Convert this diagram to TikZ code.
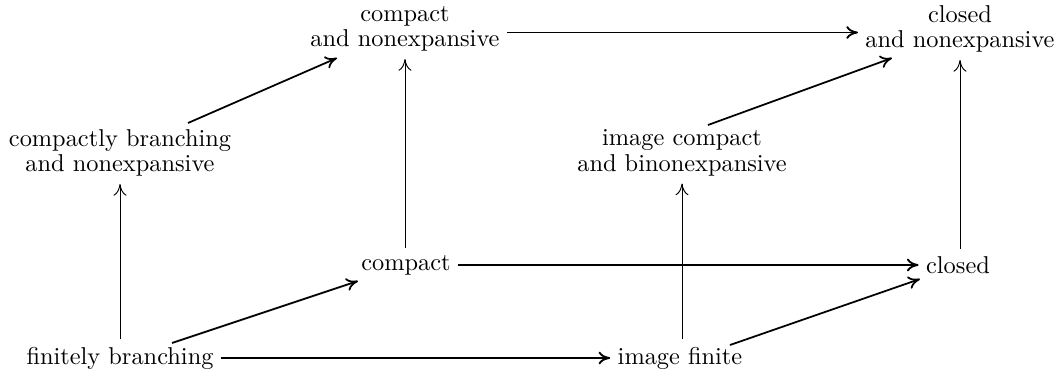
\documentclass[tikz,border=0pt]{standalone}
\usetikzlibrary{calc,arrows.meta}
\begin{document}
\begin{tikzpicture}[x=0.015cm,y=-0.015cm,
  lbl/.style={inner sep=3pt,align=center,font=\fontsize{10.4}{10.8}\selectfont},
  harr/.style={line width=0.8pt,-{To[length=5pt,width=5.5pt]}},
  varr/.style={line width=0.4pt,-{To[length=5pt,width=5.5pt]}},
  darr/.style={line width=0.75pt,-{To[length=5pt,width=5.5pt]}}]
\useasboundingbox (0,0) rectangle (1058,375);
\node[lbl] (cn)  at (405,29)  {compact\\and nonexpansive};
\node[lbl] (cln) at (960,29)  {closed\\and nonexpansive};
\node[lbl] (cbn) at (120,153) {compactly branching\\and nonexpansive};
\node[lbl] (icb) at (682,153) {image compact\\and binonexpansive};
\node[lbl] (cp)  at (406,265) {compact};
\node[lbl] (cl)  at (958,265) {closed};
\node[lbl] (fb)  at (120,358) {finitely branching};
\node[lbl] (imf) at (680,358) {image finite};
% horizontal
\draw[harr] ([yshift=-1.5pt]cn.east) -- ([yshift=-1.5pt]cln.west);
\draw[harr] (cp.east) -- (cl.west);
\draw[harr] (fb.east) -- (imf.west);
% vertical
\draw[varr] (fb.north) -- (cbn.south);
\draw[varr] (cp.north -| cn.south) -- (cn.south);
\draw[varr] (imf.north -| icb.south) -- (icb.south);
\draw[varr] (cl.north -| cln.south) -- (cln.south);
% diagonal
\draw[darr] ($(cbn.center)+(68,-30)$) -- ($(cn.center)+(-68,29)$);
\draw[darr] ($(icb.center)+(26,-28)$) -- ($(cln.center)+(-68,29)$);
\draw[darr] ($(fb.center)+(52,-15)$) -- ($(cp.center)+(-48,16)$);
\draw[darr] ($(imf.center)+(50,-13)$) -- ($(cl.center)+(-38,14)$);
\end{tikzpicture}
\end{document}
